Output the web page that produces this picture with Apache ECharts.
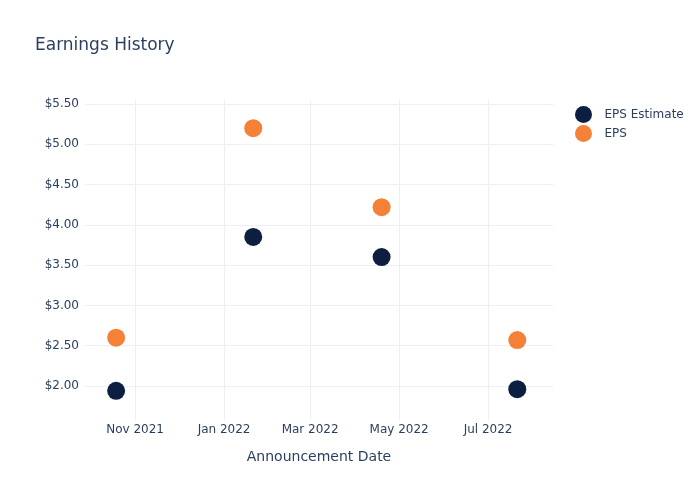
<!DOCTYPE html>
<html>
<head>
<meta charset="utf-8">
<script src="https://cdn.jsdelivr.net/npm/echarts@6/dist/echarts.min.js"></script>
<style>html,body{margin:0;padding:0;background:#fff}#c{width:700px;height:500px}</style>
</head>
<body>
<div id="c"></div>
<script>
const dates = ['2021-10-19', '2022-01-21', '2022-04-19', '2022-07-21'];
const epsEstimate = [1.94, 3.85, 3.60, 1.96];
const eps = [2.60, 5.20, 4.22, 2.57];
const xTickDates = ['2021-11-01', '2022-01-01', '2022-03-01', '2022-05-01', '2022-07-01'];
const xTickLabels = ['Nov 2021', 'Jan 2022', 'Mar 2022', 'May 2022', 'Jul 2022'];
const yTicks = [2.0, 2.5, 3.0, 3.5, 4.0, 4.5, 5.0, 5.5];

const FONT = 'DejaVu Sans';
const TXT = '#2a3f5f';
const GRID = '#ebf0f8';
const ts = d => new Date(d + 'T00:00:00Z').getTime();
const xTickVals = xTickDates.map(ts);
const labelMap = {};
xTickVals.forEach((v, i) => labelMap[v] = xTickLabels[i]);

const chart = echarts.init(document.getElementById('c'), null, {renderer: 'canvas'});
chart.setOption({
  animation: false,
  backgroundColor: '#fff',
  textStyle: {fontFamily: FONT},
  title: {
    text: 'Earnings History', left: 30, top: 32,
    textStyle: {fontFamily: FONT, fontSize: 17, fontWeight: 'normal', color: TXT}
  },
  legend: {
    orient: 'vertical', left: 570, top: 101, itemGap: 2,
    icon: 'circle', itemWidth: 32, itemHeight: 17,
    textStyle: {fontFamily: FONT, fontSize: 12, color: TXT},
    data: ['EPS Estimate', 'EPS']
  },
  grid: {left: 85, right: 147, top: 100, bottom: 80, containLabel: false},
  xAxis: {
    type: 'value',
    min: ts('2021-09-27') + 16 * 3600e3,
    max: ts('2022-08-14') + 12 * 3600e3,
    name: 'Announcement Date', nameLocation: 'middle', nameGap: 30,
    nameTextStyle: {fontFamily: FONT, fontSize: 14, color: TXT},
    axisLine: {show: false},
    axisTick: {show: false, customValues: xTickVals},
    axisLabel: {
      customValues: xTickVals, color: TXT, fontFamily: FONT, fontSize: 12, margin: 4,
      formatter: v => labelMap[v] || ''
    },
    splitLine: {show: true, lineStyle: {color: GRID, width: 1}}
  },
  yAxis: {
    type: 'value', min: 1.578, max: 5.55,
    axisLine: {show: false},
    axisTick: {show: false, customValues: yTicks},
    axisLabel: {
      customValues: yTicks, color: TXT, fontFamily: FONT, fontSize: 12, margin: 6,
      formatter: v => '$' + v.toFixed(2)
    },
    splitLine: {show: true, lineStyle: {color: GRID, width: 1}}
  },
  series: [
    {
      name: 'EPS Estimate', type: 'scatter', symbolSize: 18,
      itemStyle: {color: '#0c1f40', opacity: 1},
      data: dates.map((d, i) => [ts(d), epsEstimate[i]])
    },
    {
      name: 'EPS', type: 'scatter', symbolSize: 18,
      itemStyle: {color: '#f58137', opacity: 1},
      data: dates.map((d, i) => [ts(d), eps[i]])
    }
  ]
});
</script>
</body>
</html>
